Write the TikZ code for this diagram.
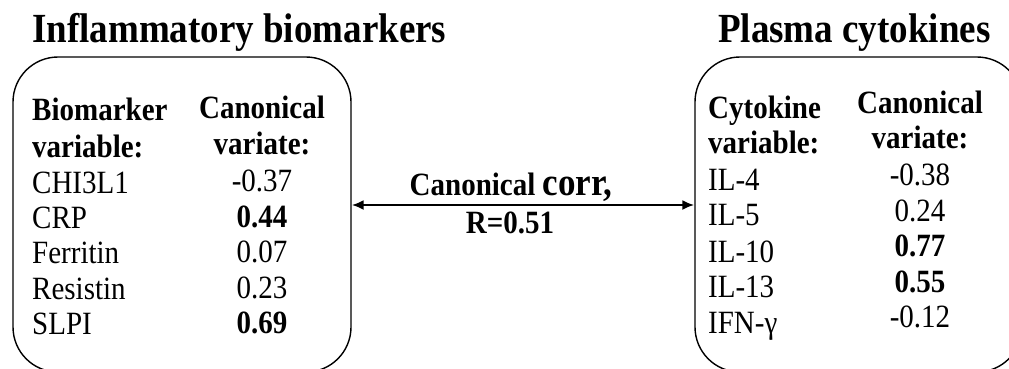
\documentclass[tikz,border=0pt]{standalone}
\usepackage{fontspec}
\setmainfont{Liberation Serif}
\usetikzlibrary{arrows.meta}
% glyphs in this figure are set slightly taller than their natural shape
\newcommand{\tallset}[1]{\scalebox{1}[1.12]{#1}}
\tikzset{
  panel/.style={draw, line width=1.4pt, rounded corners=45pt, inner sep=0pt},
  heading/.style={font=\fontsize{37}{40}\selectfont\bfseries, anchor=base west, inner sep=0pt},
  colhead/.style={font=\fontsize{29}{34}\selectfont\bfseries, inner sep=0pt},
  varname/.style={font=\fontsize{29}{34}\selectfont, anchor=base west, inner sep=0pt},
  loading/.style={font=\fontsize{29}{34}\selectfont, anchor=base, inner sep=0pt},
  strong/.style={loading, font=\fontsize{29}{34}\selectfont\bfseries},
  link/.style={line width=2.2pt, {Latex[length=12pt,width=10pt]}-{Latex[length=12pt,width=10pt]}}
}
\begin{document}
\begin{tikzpicture}[x=1pt,y=-1pt]
\useasboundingbox (0,0) rectangle (1009,368);
\begin{scope}
\clip (0,0) rectangle (1009,368);
% left panel: inflammatory biomarkers
\node[panel, minimum width=338pt, minimum height=315pt] (lb) at (182,214.5) {};
% right panel: plasma cytokines
\node[panel, minimum width=327pt, minimum height=315pt] (rb) at (858.5,214.5) {};
\end{scope}

\node[heading] (lt) at (32,42) {\tallset{Inflammatory biomarkers}};
\node[heading] (rt) at (718,42) {\tallset{Plasma cytokines}};

% left table
\node[colhead, anchor=base west] (lh1a) at (32,120) {\tallset{Biomarker}};
\node[colhead, anchor=base west] (lh1b) at (32,157) {\tallset{variable:}};
\node[colhead, anchor=base] (lh2a) at (262,118) {\tallset{Canonical}};
\node[colhead, anchor=base] (lh2b) at (262,154) {\tallset{variate:}};
\node[varname] (l1) at (32,193) {\tallset{CHI3L1}};
\node[varname] (l2) at (32,228) {\tallset{CRP}};
\node[varname] (l3) at (32,263) {\tallset{Ferritin}};
\node[varname] (l4) at (32,299) {\tallset{Resistin}};
\node[varname] (l5) at (32,334) {\tallset{SLPI}};
\node[loading] (lv1) at (262,191) {\tallset{-0.37}};
\node[strong]  (lv2) at (262,227) {\tallset{0.44}};
\node[loading] (lv3) at (262,262) {\tallset{0.07}};
\node[loading] (lv4) at (262,298) {\tallset{0.23}};
\node[strong]  (lv5) at (262,333) {\tallset{0.69}};

% right table
\node[colhead, anchor=base west] (rh1a) at (708,118) {\tallset{Cytokine}};
\node[colhead, anchor=base west] (rh1b) at (708,153) {\tallset{variable:}};
\node[colhead, anchor=base] (rh2a) at (920,113) {\tallset{Canonical}};
\node[colhead, anchor=base] (rh2b) at (920,148) {\tallset{variate:}};
\node[varname] (r1) at (708,190) {\tallset{IL-4}};
\node[varname] (r2) at (708,225) {\tallset{IL-5}};
\node[varname] (r3) at (708,262) {\tallset{IL-10}};
\node[varname] (r4) at (708,297) {\tallset{IL-13}};
\node[varname] (r5) at (708,333) {\tallset{IFN-γ}};
\node[loading] (rv1) at (920,185) {\tallset{-0.38}};
\node[loading] (rv2) at (920,221) {\tallset{0.24}};
\node[strong]  (rv3) at (920,256) {\tallset{0.77}};
\node[strong]  (rv4) at (920,292) {\tallset{0.55}};
\node[loading] (rv5) at (920,327) {\tallset{-0.12}};

% canonical correlation link
\coordinate (ay) at (0,205);
\draw[link] (lb.east |- ay) -- (rb.west |- ay);
\node[anchor=base, inner sep=0pt, font=\bfseries] (cc) at (511,195)
  {\tallset{\fontsize{29}{34}\selectfont Canonical \fontsize{35}{40}\selectfont corr,}};
\node[anchor=base, inner sep=0pt, font=\fontsize{29}{34}\selectfont\bfseries] (rr) at (510,233) {\tallset{R=0.51}};
\end{tikzpicture}
\end{document}
